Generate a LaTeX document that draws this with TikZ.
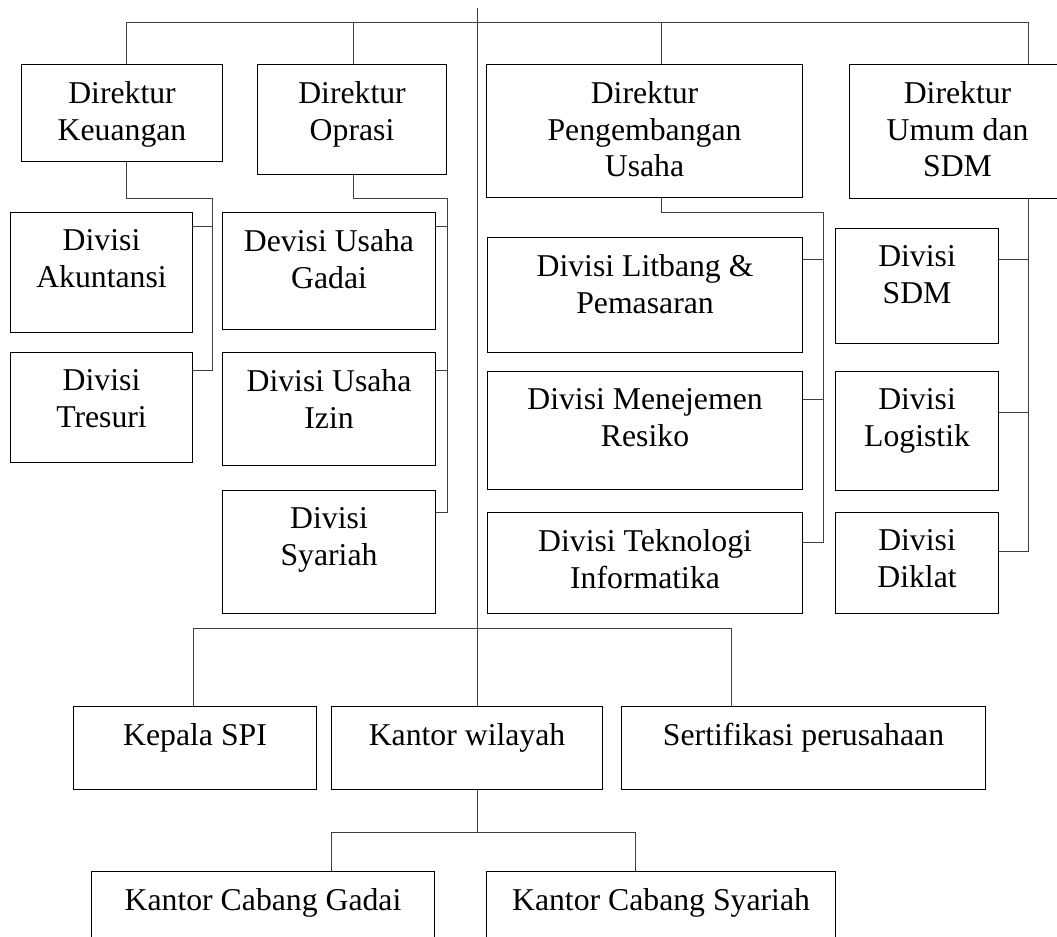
\documentclass[tikz,border=0pt]{standalone}
\usepackage{fontspec}
\setmainfont{Liberation Serif}
\usepackage{tikz}
\usetikzlibrary{positioning}

\newcommand{\orgbox}[6]{%
    \node[box, minimum width={(#4-#2)*0.75pt}, minimum height={(#5-#3)*0.75pt}] (#1) at (#2,#3) {};
    \node[lbl] (#1-txt) at ([yshift=-13pt]#1.north) {#6};
}

\begin{document}
\begin{tikzpicture}[
        x=0.75pt, y=-0.75pt,
        box/.style={
            draw,
            line width=0.8pt,
            inner sep=0pt,
            anchor=north west
        },
        lbl/.style={
            align=center,
            inner sep=0pt,
            anchor=north,
            font=\fontsize{23.8}{27.5}\selectfont
        },
        conn/.style={line width=0.7pt, draw=black!75}
    ]
        \useasboundingbox (0,0) rectangle (1057,937);
        \clip (0,0) rectangle (1057,937);

        \orgbox{keu}{21}{64}{222}{161}{Direktur\\Keuangan}
        \orgbox{opr}{257}{64}{446}{174}{Direktur\\Oprasi}
        \orgbox{peng}{486}{64}{802}{197}{Direktur\\Pengembangan\\Usaha}
        \orgbox{umum}{849}{64}{1065}{198}{Direktur\\Umum dan\\SDM}

        \orgbox{akun}{10}{212}{192}{332}{Divisi\\Akuntansi}
        \orgbox{tres}{10}{352}{192}{462}{Divisi\\Tresuri}
        \orgbox{gadai}{222}{212}{435}{329}{Devisi Usaha\\Gadai}
        \orgbox{izin}{222}{352}{435}{465}{Divisi Usaha\\Izin}
        \orgbox{syar}{222}{490}{435}{613}{Divisi\\Syariah}
        \orgbox{litbang}{487}{237}{802}{352}{Divisi Litbang \&\\Pemasaran}
        \orgbox{resiko}{487}{371}{802}{489}{Divisi Menejemen\\Resiko}
        \orgbox{tekno}{487}{512}{802}{613}{Divisi Teknologi\\Informatika}
        \orgbox{sdm}{835}{228}{998}{343}{Divisi\\SDM}
        \orgbox{logis}{835}{371}{998}{490}{Divisi\\Logistik}
        \orgbox{diklat}{835}{512}{998}{613}{Divisi\\Diklat}

        \orgbox{spi}{73}{706}{316}{789}{Kepala SPI}
        \orgbox{wil}{331}{706}{602}{789}{Kantor wilayah}
        \orgbox{sert}{621}{706}{985}{789}{Sertifikasi perusahaan}
        \orgbox{cgad}{91}{871}{434}{960}{Kantor Cabang Gadai}
        \orgbox{csya}{486}{871}{835}{960}{Kantor Cabang Syariah}

        % top level
        \coordinate (top) at (477,8);
        \coordinate (mid) at (477,636);
        \coordinate (busL) at (126,22);
        \coordinate (busR) at (1028,22);
        \coordinate (dOpr) at (353,22);
        \coordinate (dPeng) at (661,22);
        \draw[conn] (top) -- (mid);
        \draw[conn] (busL) -- (busR);
        \draw[conn] (busL) -- (busL |- keu.north);
        \draw[conn] (dOpr) -- (dOpr |- opr.north);
        \draw[conn] (dPeng) -- (dPeng |- peng.north);
        \draw[conn] (busR) -- (busR |- umum.north);

        \coordinate (keuV) at (212,198);
        \coordinate (keuB1) at (212,226);
        \coordinate (keuB2) at (212,370);
        \draw[conn] (busL |- keu.south) |- (keuV) -- (keuB2) -- (keuB2 -| tres.east);
        \draw[conn] (keuB1) -- (keuB1 -| akun.east);

        \coordinate (oprV) at (447,198);
        \coordinate (oprB1) at (447,226);
        \coordinate (oprB2) at (447,370);
        \coordinate (oprB3) at (447,512);
        \draw[conn] (dOpr |- opr.south) |- (oprV) -- (oprB3) -- (oprB3 -| syar.east);
        \draw[conn] (oprB1) -- (oprB1 -| gadai.east);
        \draw[conn] (oprB2) -- (oprB2 -| izin.east);

        \coordinate (pengV) at (823,212);
        \coordinate (pengB1) at (823,259);
        \coordinate (pengB2) at (823,399);
        \coordinate (pengB3) at (823,542);
        \draw[conn] (dPeng |- peng.south) |- (pengV) -- (pengB3) -- (pengB3 -| tekno.east);
        \draw[conn] (pengB1) -- (pengB1 -| litbang.east);
        \draw[conn] (pengB2) -- (pengB2 -| resiko.east);

        \coordinate (umB1) at (1028,259);
        \coordinate (umB2) at (1028,412);
        \coordinate (umB3) at (1028,551);
        \draw[conn] (busR |- umum.south) -- (umB3) -- (umB3 -| diklat.east);
        \draw[conn] (umB1) -- (umB1 -| sdm.east);
        \draw[conn] (umB2) -- (umB2 -| logis.east);

        % lower level
        \coordinate (bus2L) at (193,628);
        \coordinate (bus2R) at (731,628);
        \draw[conn] (bus2L) -- (bus2R);
        \draw[conn] (bus2L) -- (bus2L |- spi.north);
        \draw[conn] (mid |- bus2L) -- (mid |- wil.north);
        \draw[conn] (bus2R) -- (bus2R |- sert.north);

        \coordinate (bus3L) at (331,832);
        \coordinate (bus3R) at (635,832);
        \draw[conn] (mid |- wil.south) -- (mid |- bus3L);
        \draw[conn] (bus3L) -- (bus3R);
        \draw[conn] (bus3L) -- (bus3L |- cgad.north);
        \draw[conn] (bus3R) -- (bus3R |- csya.north);
\end{tikzpicture}
\end{document}
